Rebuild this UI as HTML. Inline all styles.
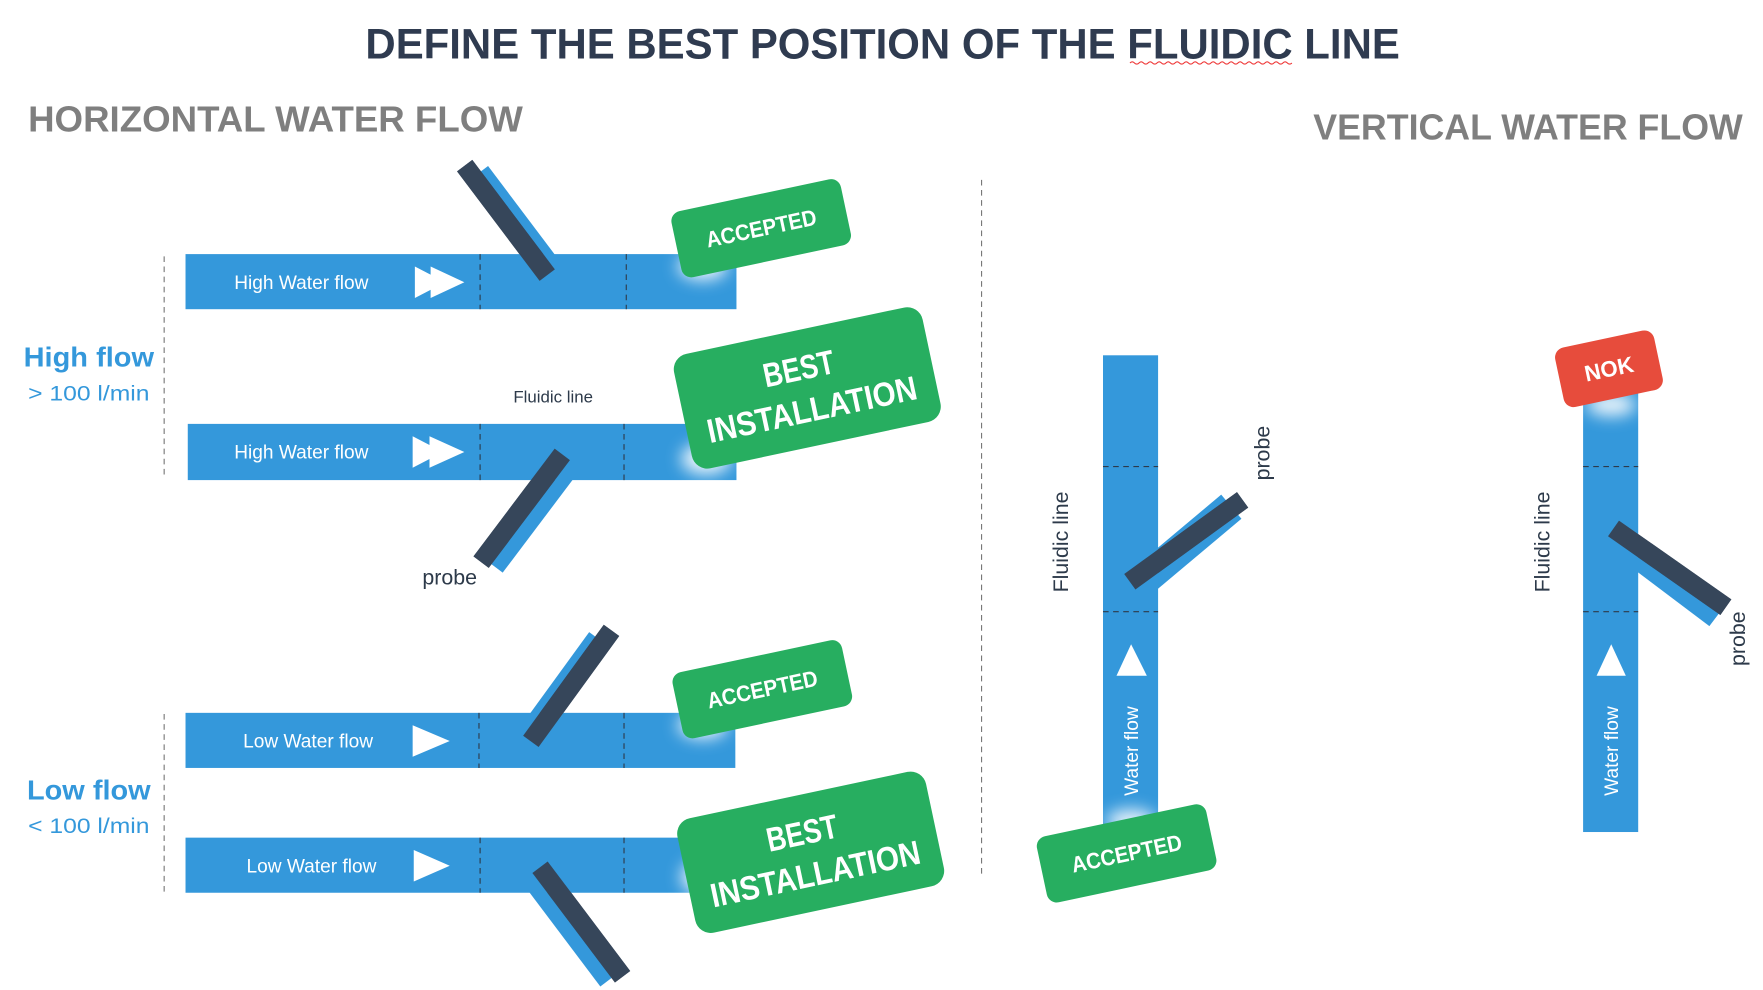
<!DOCTYPE html>
<html><head><meta charset="utf-8"><style>
html,body{margin:0;padding:0;background:#fff;width:1763px;height:990px;overflow:hidden}
svg{display:block}
text{font-family:"Liberation Sans",sans-serif}
</style></head><body>
<svg width="1763" height="990" viewBox="0 0 1568 880.5" preserveAspectRatio="none" xmlns="http://www.w3.org/2000/svg">
<defs>
<filter id="g" x="-50%" y="-50%" width="200%" height="200%"><feGaussianBlur stdDeviation="7"/></filter>
</defs>
<text x="785" y="52" text-anchor="middle" font-size="38" font-weight="bold" fill="#2f3b50" textLength="920" lengthAdjust="spacingAndGlyphs">DEFINE THE BEST POSITION OF THE FLUIDIC LINE</text>
<path d="M1005 56 q2 -2 4 0 t4 0 t4 0 t4 0 t4 0 t4 0 t4 0 t4 0 t4 0 t4 0 t4 0 t4 0 t4 0 t4 0 t4 0 t4 0 t4 0 t4 0 t4 0 t4 0 t4 0 t4 0 t4 0 t4 0 t4 0 t4 0 t4 0 t4 0 t4 0 t4 0 t4 0 t4 0 t4 0 t4 0 t4 0 t4 0" stroke="#e33" stroke-width="1" fill="none"/>
<text x="25" y="117" font-size="32" font-weight="bold" fill="#7f7f7f" textLength="440" lengthAdjust="spacingAndGlyphs">HORIZONTAL WATER FLOW</text>
<text x="1168" y="124" font-size="32" font-weight="bold" fill="#7f7f7f" textLength="382" lengthAdjust="spacingAndGlyphs">VERTICAL WATER FLOW</text>
<g stroke="#777" stroke-dasharray="5,4" stroke-width="1">
<line x1="873" y1="160" x2="873" y2="780"/>
<line x1="146" y1="228" x2="146" y2="423"/>
<line x1="146" y1="635" x2="146" y2="793"/>
</g>
<text x="79" y="326" text-anchor="middle" font-size="25" font-weight="bold" fill="#3498db" textLength="116" lengthAdjust="spacingAndGlyphs">High flow</text>
<text x="79" y="356" text-anchor="middle" font-size="19" fill="#3498db" textLength="108" lengthAdjust="spacingAndGlyphs">&gt; 100 l/min</text>
<text x="79" y="711" text-anchor="middle" font-size="25" font-weight="bold" fill="#3498db" textLength="110" lengthAdjust="spacingAndGlyphs">Low flow</text>
<text x="79" y="741" text-anchor="middle" font-size="19" fill="#3498db" textLength="108" lengthAdjust="spacingAndGlyphs">&lt; 100 l/min</text>

<g>
<rect x="-58" y="-10" width="116" height="20" fill="#3498db" transform="translate(461,200) rotate(53)"/>
<rect x="-61" y="-8.5" width="122" height="17" fill="#36465a" transform="translate(450,196) rotate(53)"/>
<rect x="-58" y="-10" width="116" height="20" fill="#3498db" transform="translate(474,457) rotate(127)"/>
<rect x="-60" y="-8.5" width="120" height="17" fill="#36465a" transform="translate(464,452) rotate(127)"/>
<rect x="-58" y="-10" width="116" height="20" fill="#3498db" transform="translate(498,615) rotate(126)"/>
<rect x="-61" y="-8.5" width="122" height="17" fill="#36465a" transform="translate(508,610) rotate(126)"/>
<rect x="-58" y="-10" width="116" height="20" fill="#3498db" transform="translate(507,825) rotate(53)"/>
<rect x="-61" y="-8.5" width="122" height="17" fill="#36465a" transform="translate(517,820) rotate(53)"/>
<rect x="-55" y="-14" width="110" height="28" fill="#3498db" transform="translate(1053,486) rotate(-40)"/>
<rect x="-62" y="-8.5" width="124" height="17" fill="#36465a" transform="translate(1055,481) rotate(-36)"/>
<rect x="-58" y="-10" width="116" height="20" fill="#3498db" transform="translate(1480,514) rotate(37)"/>
<rect x="-61" y="-8.5" width="122" height="17" fill="#36465a" transform="translate(1485,505) rotate(35)"/>
</g>

<g fill="#3498db">
<rect x="165" y="226" width="490" height="49"/>
<rect x="167" y="377" width="488" height="50"/>
<rect x="165" y="634" width="489" height="49"/>
<rect x="165" y="745" width="490" height="49"/>
<rect x="981" y="316" width="49" height="419"/>
<rect x="1408" y="345" width="49" height="395"/>
</g>
<rect x="-61" y="-8.5" width="122" height="17" fill="#36465a" transform="translate(450,196) rotate(53)"/>
<rect x="-60" y="-8.5" width="120" height="17" fill="#36465a" transform="translate(464,452) rotate(127)"/>
<rect x="-61" y="-8.5" width="122" height="17" fill="#36465a" transform="translate(508,610) rotate(126)"/>
<rect x="-61" y="-8.5" width="122" height="17" fill="#36465a" transform="translate(517,820) rotate(53)"/>
<rect x="-62" y="-8.5" width="124" height="17" fill="#36465a" transform="translate(1055,481) rotate(-36)"/>
<rect x="-61" y="-8.5" width="122" height="17" fill="#36465a" transform="translate(1485,505) rotate(35)"/>

<g stroke="#2d3a4a" stroke-dasharray="5,4" stroke-width="1">
<line x1="427" y1="226" x2="427" y2="275"/><line x1="557" y1="226" x2="557" y2="275"/>
<line x1="427" y1="377" x2="427" y2="427"/><line x1="555" y1="377" x2="555" y2="427"/>
<line x1="426" y1="634" x2="426" y2="683"/><line x1="555" y1="634" x2="555" y2="683"/>
<line x1="427" y1="745" x2="427" y2="794"/><line x1="555" y1="745" x2="555" y2="794"/>
<line x1="981" y1="415" x2="1030" y2="415"/><line x1="981" y1="544" x2="1030" y2="544"/>
<line x1="1408" y1="415" x2="1457" y2="415"/><line x1="1408" y1="544" x2="1457" y2="544"/>
</g>

<g fill="#fff" font-size="17">
<text x="268" y="257" text-anchor="middle">High Water flow</text>
<text x="268" y="408" text-anchor="middle">High Water flow</text>
<text x="274" y="665" text-anchor="middle">Low Water flow</text>
<text x="277" y="776" text-anchor="middle">Low Water flow</text>
<polygon points="369,237 369,265 396,251"/><polygon points="383,237 383,265 413,251"/>
<polygon points="367,388 367,416 394,402"/><polygon points="382,388 382,416 413,402"/>
<polygon points="367,645 367,673 400,659"/>
<polygon points="368,756 368,784 400,770"/>
<polygon points="1006,573 993,601 1020,601"/>
<polygon points="1433,573 1420,601 1446,601"/>
<text transform="translate(1012,668) rotate(-90)" text-anchor="middle" font-size="17">Water flow</text>
<text transform="translate(1439,668) rotate(-90)" text-anchor="middle" font-size="17">Water flow</text>
</g>
<g fill="#2d3a4a">
<text x="492" y="358" text-anchor="middle" font-size="15">Fluidic line</text>
<text x="400" y="520" text-anchor="middle" font-size="19">probe</text>
<text transform="translate(950,482) rotate(-90)" text-anchor="middle" font-size="19">Fluidic line</text>
<text transform="translate(1378,482) rotate(-90)" text-anchor="middle" font-size="19">Fluidic line</text>
<text transform="translate(1129,403) rotate(-90)" text-anchor="middle" font-size="19">probe</text>
<text transform="translate(1552,568) rotate(-90)" text-anchor="middle" font-size="19">probe</text>
</g>

<g fill="#fff" filter="url(#g)" opacity="0.9">
<ellipse cx="625" cy="237" rx="22" ry="12"/>
<ellipse cx="628" cy="408" rx="22" ry="14"/>
<ellipse cx="625" cy="645" rx="22" ry="12"/>
<ellipse cx="628" cy="780" rx="22" ry="16"/>
<ellipse cx="1006" cy="730" rx="22" ry="10"/>
<ellipse cx="1433" cy="360" rx="22" ry="10"/>
</g>

<g transform="translate(677,203) rotate(-12)">
<rect x="-77" y="-30" width="154" height="60" rx="9" fill="#27ae60"/>
<text x="0" y="7" text-anchor="middle" font-size="20" font-weight="bold" fill="#fff" textLength="100" lengthAdjust="spacingAndGlyphs">ACCEPTED</text>
</g>
<g transform="translate(718,345) rotate(-12)">
<rect x="-113" y="-52" width="226" height="104" rx="14" fill="#27ae60"/>
<text x="-4" y="-8" text-anchor="middle" font-size="30" font-weight="bold" fill="#fff" textLength="64" lengthAdjust="spacingAndGlyphs">BEST</text>
<text x="0" y="30" text-anchor="middle" font-size="30" font-weight="bold" fill="#fff" textLength="190" lengthAdjust="spacingAndGlyphs">INSTALLATION</text>
</g>
<g transform="translate(678,613) rotate(-12)">
<rect x="-77" y="-30" width="154" height="60" rx="9" fill="#27ae60"/>
<text x="0" y="7" text-anchor="middle" font-size="20" font-weight="bold" fill="#fff" textLength="100" lengthAdjust="spacingAndGlyphs">ACCEPTED</text>
</g>
<g transform="translate(721,758) rotate(-12)">
<rect x="-113" y="-52" width="226" height="104" rx="14" fill="#27ae60"/>
<text x="-4" y="-8" text-anchor="middle" font-size="30" font-weight="bold" fill="#fff" textLength="64" lengthAdjust="spacingAndGlyphs">BEST</text>
<text x="0" y="30" text-anchor="middle" font-size="30" font-weight="bold" fill="#fff" textLength="190" lengthAdjust="spacingAndGlyphs">INSTALLATION</text>
</g>
<g transform="translate(1002,759) rotate(-12)">
<rect x="-77" y="-30" width="154" height="60" rx="9" fill="#27ae60"/>
<text x="0" y="7" text-anchor="middle" font-size="20" font-weight="bold" fill="#fff" textLength="100" lengthAdjust="spacingAndGlyphs">ACCEPTED</text>
</g>
<g transform="translate(1431,328) rotate(-12)">
<rect x="-45" y="-27" width="90" height="54" rx="9" fill="#e74c3c"/>
<text x="0" y="7" text-anchor="middle" font-size="20" font-weight="bold" fill="#fff" textLength="44" lengthAdjust="spacingAndGlyphs">NOK</text>
</g>
</svg>
</body></html>
